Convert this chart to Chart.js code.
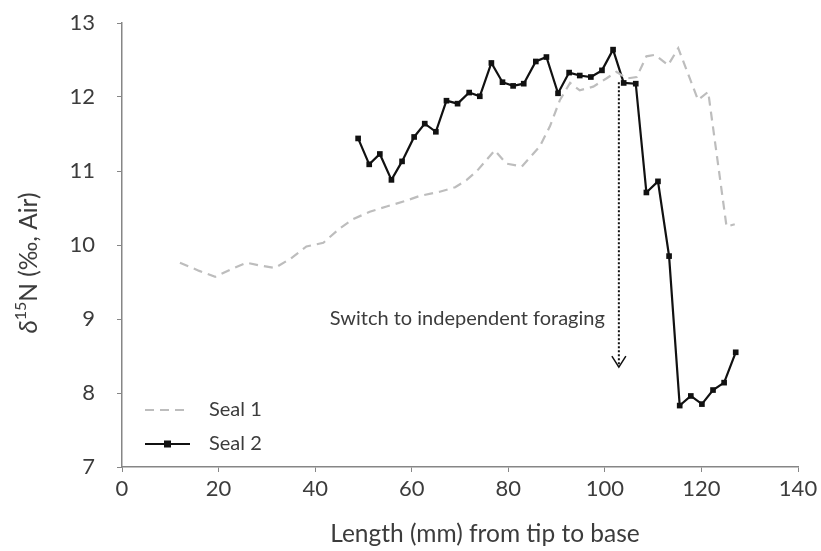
<!DOCTYPE html>
<html>
<head>
<meta charset="utf-8">
<script src="https://cdn.jsdelivr.net/npm/chart.js@4"></script>
<style>
  html, body { margin: 0; padding: 0; background: #fff; }
  #wrap { width: 821px; height: 551px; }
</style>
</head>
<body>
<div id="wrap"><canvas id="chart" width="821" height="551"></canvas></div>
<script>
// Seal 1 (dashed grey) - length (mm) and d15N
const seal1X = [12.0, 16.0, 19.3, 22.5, 25.8, 28.8, 31.7, 35.0, 38.2, 41.7, 45.0, 47.9, 51.3, 54.8, 58.9, 61.5, 65.8, 69.0, 71.4, 73.5, 75.5, 77.2, 79.6, 82.8, 86.5, 88.6, 90.7, 92.8, 94.8, 97.6, 100.3, 102.4, 104.5, 106.6, 108.6, 110.4, 113.1, 115.2, 119.3, 121.4, 125.2, 126.9];
const seal1Y = [9.76, 9.65, 9.57, 9.67, 9.76, 9.72, 9.69, 9.82, 9.98, 10.03, 10.22, 10.35, 10.45, 10.52, 10.60, 10.66, 10.72, 10.78, 10.88, 11.00, 11.15, 11.28, 11.10, 11.06, 11.33, 11.60, 11.96, 12.19, 12.09, 12.14, 12.25, 12.34, 12.25, 12.27, 12.55, 12.57, 12.43, 12.66, 11.96, 12.07, 10.25, 10.28];

// Seal 2 (black, square markers)
const seal2X = [48.9, 51.2, 53.4, 55.8, 58.0, 60.5, 62.7, 65.0, 67.2, 69.5, 71.9, 74.1, 76.5, 78.8, 81.0, 83.2, 85.7, 87.9, 90.3, 92.6, 94.8, 97.1, 99.4, 101.7, 103.9, 106.4, 108.6, 111.0, 113.3, 115.5, 117.8, 120.1, 122.4, 124.7, 127.1];
const seal2Y = [11.44, 11.09, 11.23, 10.88, 11.13, 11.46, 11.64, 11.53, 11.95, 11.91, 12.06, 12.01, 12.46, 12.20, 12.15, 12.18, 12.48, 12.54, 12.05, 12.33, 12.29, 12.27, 12.36, 12.64, 12.19, 12.18, 10.71, 10.86, 9.85, 7.83, 7.96, 7.85, 8.04, 8.14, 8.55];

const xTicks = [0, 20, 40, 60, 80, 100, 120, 140];
const yTicks = [7, 8, 9, 10, 11, 12, 13];

// switch arrow: x position and y start/end (data units)
const switchX = 102.9;
const switchY = [12.2, 8.35];
const switchLabel = 'Switch to independent foraging';
const switchLabelAt = [100.0, 9.0];

const seriesNames = ['Seal 1', 'Seal 2'];
const xTitle = 'Length (mm) from tip to base';

const FONT = 'Lato, "Open Sans", sans-serif';
const TEXT = '#3c3c3c';
const AXIS = '#868686';

function toPoints(xs, ys) {
    return xs.map((x, i) => ({ x: x, y: ys[i] }));
}

// arrow, text, legend and axis titles
const extras = {
    id: 'extras',
    afterDatasetsDraw(chart) {
        const { ctx, chartArea, scales } = chart;
        const ax = scales.x.getPixelForValue(switchX);
        const y0 = scales.y.getPixelForValue(switchY[0]);
        const y1 = scales.y.getPixelForValue(switchY[1]);
        ctx.save();
        ctx.strokeStyle = '#111';
        ctx.lineWidth = 2;
        ctx.setLineDash([2, 2]);
        ctx.beginPath();
        ctx.moveTo(ax, y0);
        ctx.lineTo(ax, y1);
        ctx.stroke();
        ctx.setLineDash([]);
        ctx.lineWidth = 1.5;
        ctx.beginPath();
        ctx.moveTo(ax - 7, y1 - 11);
        ctx.lineTo(ax, y1);
        ctx.lineTo(ax + 7, y1 - 11);
        ctx.stroke();

        ctx.fillStyle = TEXT;
        ctx.font = '20px ' + FONT;
        ctx.textAlign = 'right';
        ctx.textBaseline = 'middle';
        ctx.fillText(switchLabel, scales.x.getPixelForValue(switchLabelAt[0]), scales.y.getPixelForValue(switchLabelAt[1]));

        // legend
        const lx = chartArea.left + 23;
        const rows = [chartArea.bottom - 57, chartArea.bottom - 23];
        ctx.textAlign = 'left';
        chart.data.datasets.forEach((ds, i) => {
            const ly = rows[i];
            ctx.strokeStyle = ds.borderColor;
            ctx.lineWidth = ds.borderWidth;
            ctx.setLineDash(ds.borderDash || []);
            ctx.beginPath();
            ctx.moveTo(lx, ly);
            ctx.lineTo(lx + 45, ly);
            ctx.stroke();
            ctx.setLineDash([]);
            if (ds.pointRadius > 0) {
                ctx.fillStyle = ds.pointBackgroundColor;
                ctx.fillRect(lx + 22.5 - 3.5, ly - 3.5, 7, 7);
            }
            ctx.fillStyle = TEXT;
            ctx.font = '20px ' + FONT;
            ctx.fillText(ds.label, lx + 64, ly);
        });

        // x title
        ctx.fillStyle = TEXT;
        ctx.font = '24.5px ' + FONT;
        ctx.textAlign = 'center';
        ctx.textBaseline = 'middle';
        ctx.fillText(xTitle, chartArea.left + 363, 534);

        // y title with italic delta and superscript 15
        const parts = [
            { t: 'δ', f: 'italic 26px ' + FONT, dy: 0 },
            { t: '15', f: '16px ' + FONT, dy: -8 },
            { t: 'N (‰, Air)', f: '24.5px ' + FONT, dy: 0 }
        ];
        let total = 0;
        parts.forEach(p => { ctx.font = p.f; p.w = ctx.measureText(p.t).width; total += p.w; });
        ctx.translate(29, 263);
        ctx.rotate(-Math.PI / 2);
        ctx.textAlign = 'left';
        let px = -total / 2;
        parts.forEach(p => {
            ctx.font = p.f;
            ctx.fillText(p.t, px, p.dy);
            px += p.w;
        });
        ctx.restore();
    }
};

new Chart(document.getElementById('chart'), {
    type: 'scatter',
    data: {
        datasets: [
            {
                label: seriesNames[0],
                data: toPoints(seal1X, seal1Y),
                showLine: true,
                borderColor: '#bdbdbd',
                borderWidth: 2.2,
                borderDash: [9, 6],
                pointRadius: 0,
                tension: 0
            },
            {
                label: seriesNames[1],
                data: toPoints(seal2X, seal2Y),
                showLine: true,
                borderColor: '#111111',
                borderWidth: 2.2,
                pointStyle: 'rect',
                pointRadius: 4,
                pointBackgroundColor: '#111111',
                pointBorderColor: '#111111',
                pointBorderWidth: 0,
                tension: 0
            }
        ]
    },
    options: {
        responsive: false,
        animation: false,
        layout: { padding: { left: 0, right: 23, top: 23, bottom: 0 } },
        plugins: {
            legend: { display: false },
            tooltip: { enabled: false }
        },
        scales: {
            x: {
                type: 'linear',
                min: 0,
                max: 140,
                afterBuildTicks: (s) => { s.ticks = xTicks.map(v => ({ value: v })); },
                afterFit: (s) => { s.height = 84; s.paddingRight = 0; },
                grid: { drawOnChartArea: false, drawTicks: true, tickLength: 5, color: AXIS },
                border: { color: AXIS, width: 1.5 },
                ticks: { color: TEXT, font: { family: FONT, size: 22 }, padding: 4 }
            },
            y: {
                type: 'linear',
                min: 7,
                max: 13,
                afterBuildTicks: (s) => { s.ticks = yTicks.map(v => ({ value: v })); },
                afterFit: (s) => { s.width = 122; s.paddingTop = 0; s.paddingBottom = 0; },
                grid: { drawOnChartArea: false, drawTicks: true, tickLength: 5, color: AXIS },
                border: { color: AXIS, width: 1.5 },
                ticks: { color: TEXT, font: { family: FONT, size: 22 }, padding: 22 }
            }
        }
    },
    plugins: [extras]
});
</script>
</body>
</html>
